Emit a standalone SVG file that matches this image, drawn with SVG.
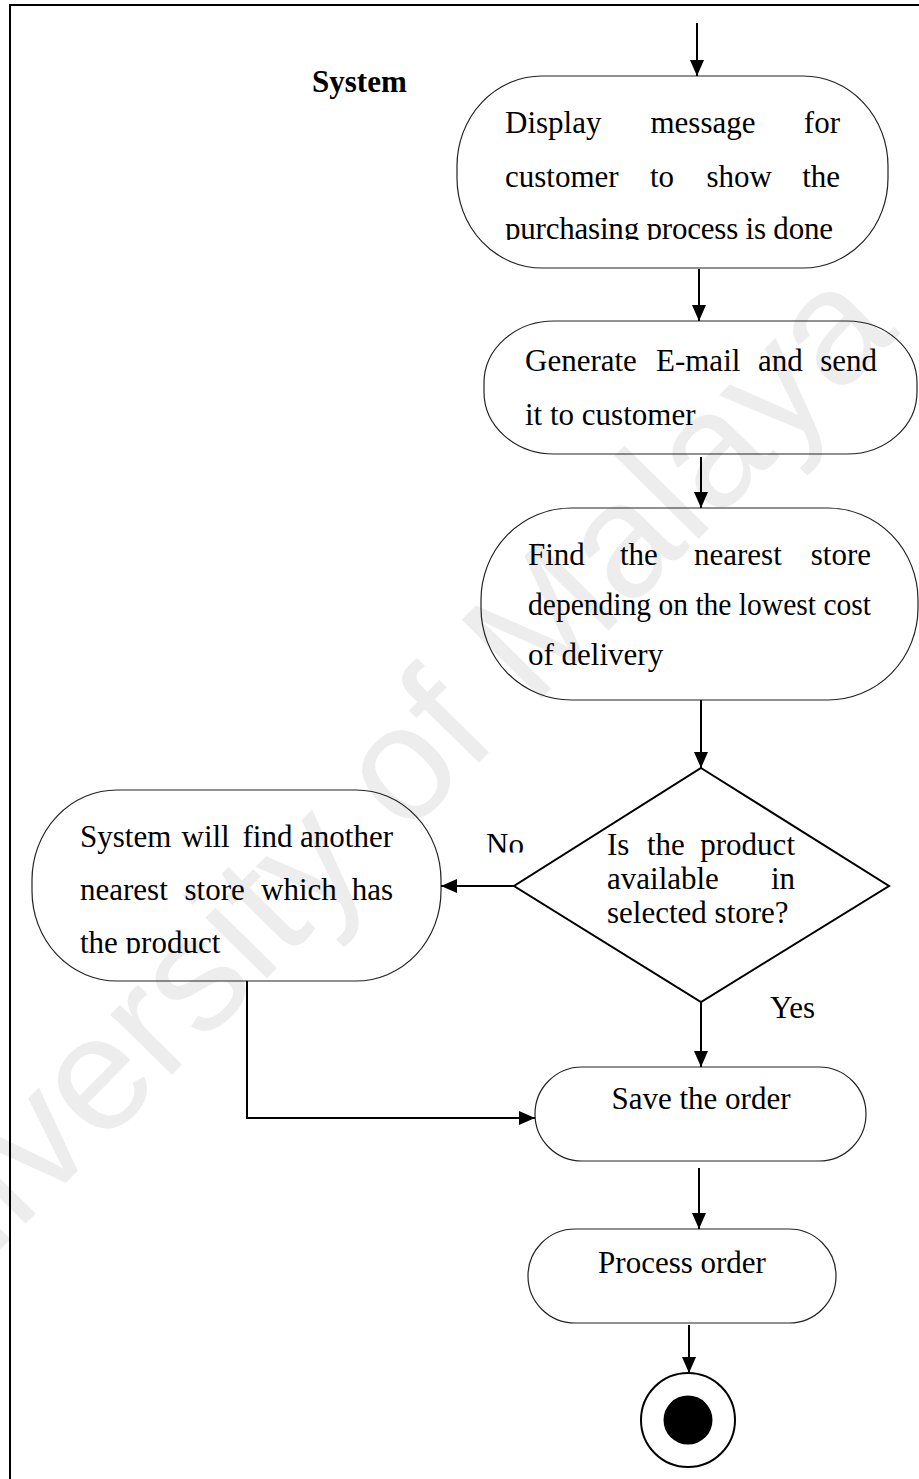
<svg xmlns="http://www.w3.org/2000/svg" width="919" height="1479" viewBox="0 0 919 1479">
  <style>
    .node { fill: none; stroke: #222; stroke-width: 1.2; }
    .dec { fill: none; stroke: #000; stroke-width: 2; }
    .t { font-family: "Liberation Serif", "Times New Roman", serif; font-size: 31px; fill: #000; }
    .e { text-anchor: end; }
    .wire { fill: none; stroke: #000; stroke-width: 2; marker-end: url(#arrow); }
    .frame { fill: none; stroke: #000; stroke-width: 2; }
    .wm { font-family: "Liberation Sans", Arial, sans-serif; font-size: 163px; fill: #ededed; }
  </style>
  <defs>
    <marker id="arrow" viewBox="0 0 16 14" refX="16" refY="7" markerWidth="16" markerHeight="14" markerUnits="userSpaceOnUse" orient="auto">
      <path d="M0,0 L16,7 L0,14 Z" fill="#000"/>
    </marker>
    <clipPath id="clipDisplay" clipPathUnits="userSpaceOnUse"><rect x="450" y="200" width="450" height="40"/></clipPath>
    <clipPath id="clipAnother" clipPathUnits="userSpaceOnUse"><rect x="40" y="910" width="400" height="43.5"/></clipPath>
    <clipPath id="clipNo" clipPathUnits="userSpaceOnUse"><rect x="470" y="820" width="70" height="32.5"/></clipPath>
  </defs>

  <rect width="919" height="1479" fill="#fff"/>

  <!-- background watermark -->
  <text class="wm" transform="translate(-128,1380) rotate(-45.5)">University of Malaya</text>

  <!-- outer frame -->
  <path class="frame" d="M10,1479 V5 H919"/>

  <text class="t" x="312" y="92" font-weight="bold">System</text>

  <g id="display-message">
    <rect class="node" x="457" y="76" width="431" height="192" rx="85" ry="90"/>
    <text class="t" x="505" y="133">Display</text>
    <text class="t" x="650.5" y="133">message</text>
    <text class="t e" x="840" y="133">for</text>
    <text class="t" x="505" y="186.5">customer</text>
    <text class="t" x="650" y="186.5">to</text>
    <text class="t" x="706.5" y="186.5">show</text>
    <text class="t e" x="840" y="186.5">the</text>
    <text class="t" x="505" y="239" textLength="328" lengthAdjust="spacing" clip-path="url(#clipDisplay)">purchasing process is done</text>
  </g>

  <g id="generate-email">
    <rect class="node" x="484" y="321" width="433" height="133" rx="70" ry="62"/>
    <text class="t" x="525" y="371">Generate</text>
    <text class="t" x="656" y="371">E-mail</text>
    <text class="t" x="758" y="371">and</text>
    <text class="t e" x="877" y="371">send</text>
    <text class="t" x="525" y="425">it to customer</text>
  </g>

  <g id="find-store">
    <rect class="node" x="481" y="508" width="437" height="192" rx="90" ry="92"/>
    <text class="t" x="528" y="565">Find</text>
    <text class="t" x="620" y="565">the</text>
    <text class="t" x="694" y="565">nearest</text>
    <text class="t e" x="871" y="565">store</text>
    <text class="t" x="528" y="615" textLength="343" lengthAdjust="spacingAndGlyphs">depending on the lowest cost</text>
    <text class="t" x="528" y="665">of delivery</text>
  </g>

  <g id="product-available">
    <polygon class="dec" points="701,768 889,886 701,1002 514,886"/>
    <text class="t" x="607" y="855">Is</text>
    <text class="t" x="647" y="855">the</text>
    <text class="t e" x="795" y="855">product</text>
    <text class="t" x="607" y="889">available</text>
    <text class="t e" x="795" y="889">in</text>
    <text class="t" x="607" y="923">selected store?</text>
  </g>

  <g id="find-another-store">
    <rect class="node" x="32" y="790" width="409" height="191" rx="85" ry="90"/>
    <text class="t" x="80" y="847">System</text>
    <text class="t" x="181.5" y="847">will</text>
    <text class="t" x="242.5" y="847">find</text>
    <text class="t e" x="393" y="847">another</text>
    <text class="t" x="80" y="900">nearest</text>
    <text class="t" x="184.5" y="900">store</text>
    <text class="t" x="261" y="900">which</text>
    <text class="t e" x="393" y="900">has</text>
    <text class="t" x="80" y="953" clip-path="url(#clipAnother)">the product</text>
  </g>

  <g id="save-order">
    <rect class="node" x="535" y="1067" width="331" height="94" rx="47" ry="47"/>
    <text class="t" x="701" y="1109" text-anchor="middle">Save the order</text>
  </g>

  <g id="process-order">
    <rect class="node" x="528" y="1229" width="308" height="94" rx="47" ry="47"/>
    <text class="t" x="682" y="1273" text-anchor="middle">Process order</text>
  </g>

  <g id="final-state">
    <circle cx="688" cy="1420" r="47" fill="none" stroke="#000" stroke-width="2"/>
    <circle cx="688" cy="1420" r="24.5" fill="#000"/>
  </g>

  <g id="connectors">
    <path class="wire" d="M697,23 V76"/>
    <path class="wire" d="M699,269 V321"/>
    <path class="wire" d="M701,457 V508"/>
    <path class="wire" d="M701,700 V768"/>
    <path class="wire" d="M701,1002 V1067"/>
    <path class="wire" d="M514,886 H441"/>
    <path class="wire" d="M247,981 V1118 H535"/>
    <path class="wire" d="M699,1168 V1229"/>
    <path class="wire" d="M689,1325 V1373"/>
    <text class="t" x="486" y="855" clip-path="url(#clipNo)">No</text>
    <text class="t" x="770" y="1018">Yes</text>
  </g>
</svg>
